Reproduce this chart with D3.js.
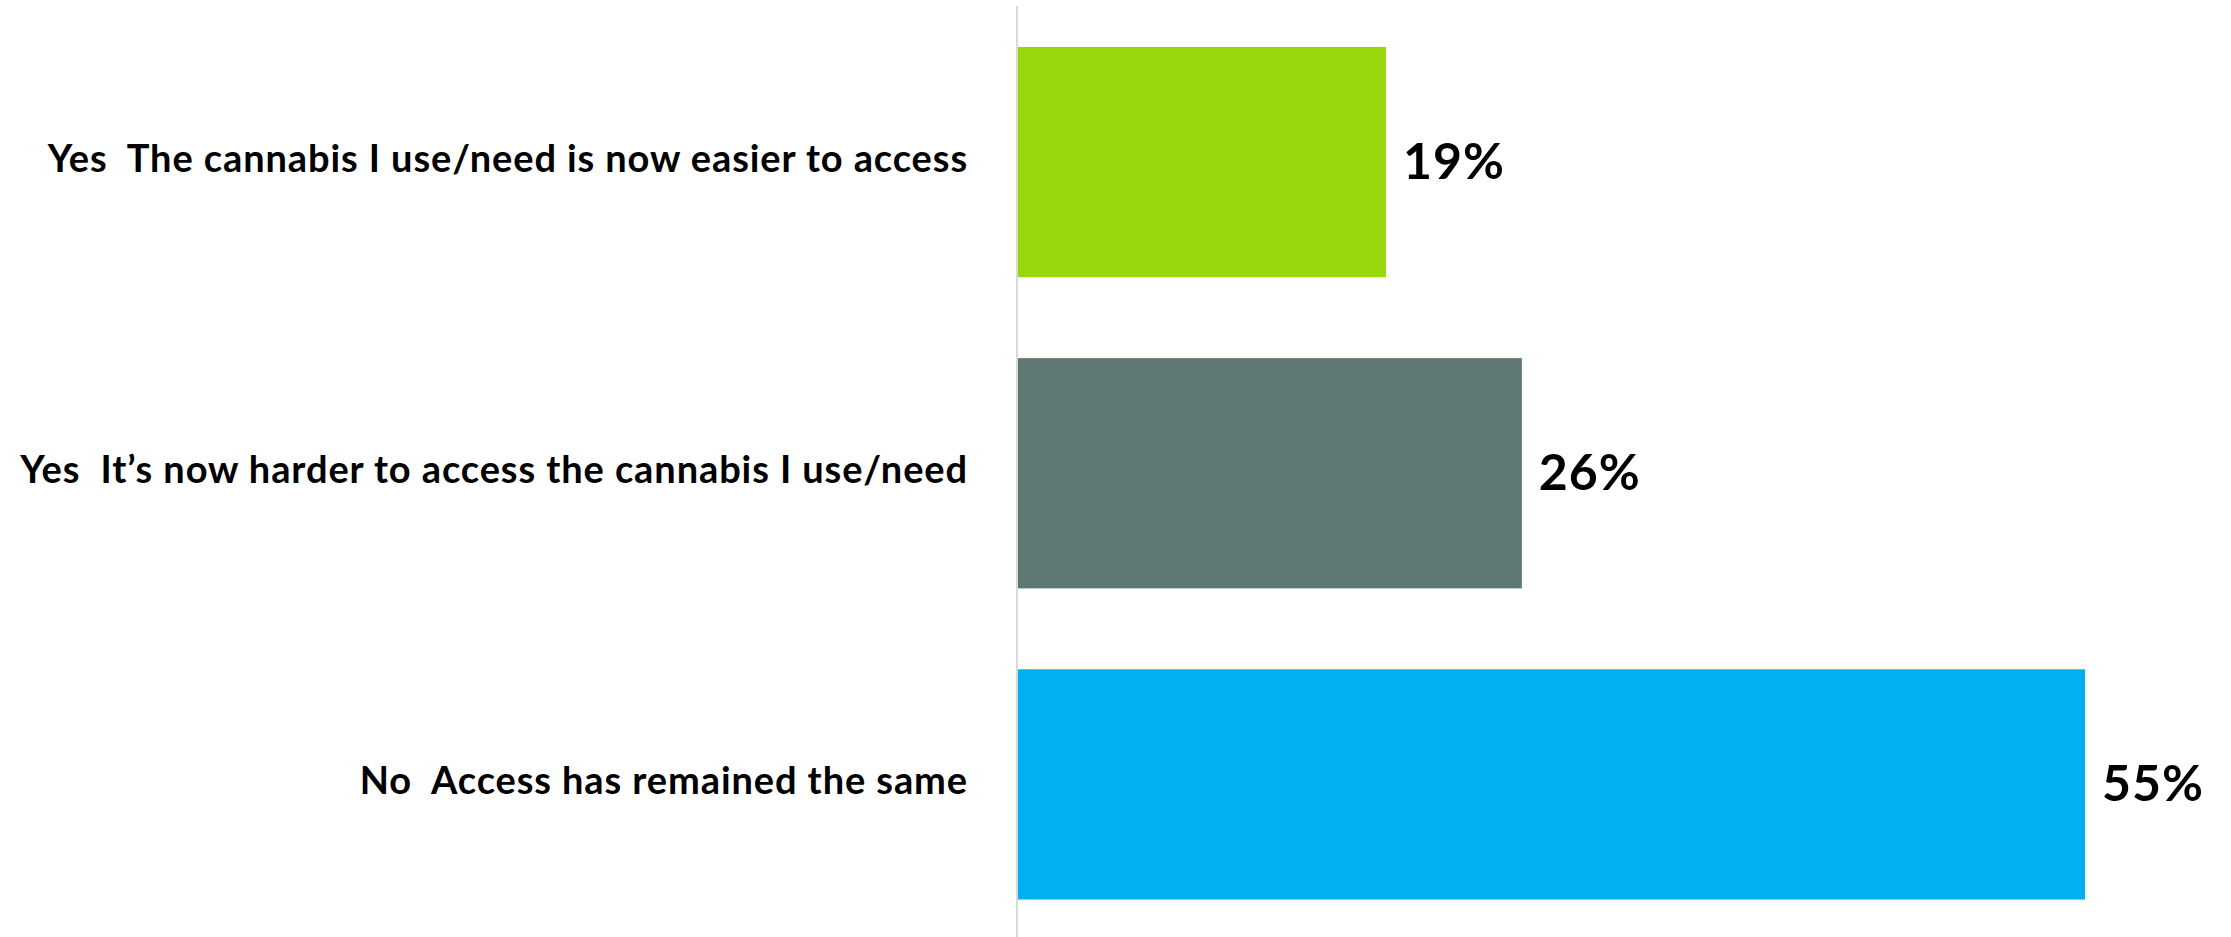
<!DOCTYPE html>
<html>
<head>
<meta charset="utf-8">
<script src="https://cdn.jsdelivr.net/npm/d3@7"></script>
<style>
  html, body { margin: 0; padding: 0; background: #ffffff; }
  svg { display: block; }
  text { white-space: pre; }
</style>
</head>
<body>
<svg id="chart" width="2231" height="937"></svg>
<script>
const categories = [
  "Yes  The cannabis I use/need is now easier to access",
  "Yes  It\u2019s now harder to access the cannabis I use/need",
  "No  Access has remained the same"
];
const values = [19, 26, 55];
const valueLabels = ["19%", "26%", "55%"];
const colors = ["#97D70B", "#5F7873", "#00B0F0"];

const svg = d3.select("#chart");
const x0 = 1017;
const x = d3.scaleLinear().domain([0, 55]).range([x0, 2085]);
const y = d3.scaleBand().domain(categories).range([6.5, 940]).paddingInner(0.26).paddingOuter(0.13);

const fontFamily = "Lato, 'Open Sans', sans-serif";

// bars
svg.append("g").selectAll("rect")
  .data(categories)
  .join("rect")
  .attr("x", x(0))
  .attr("y", d => y(d))
  .attr("width", (d, i) => x(values[i]) - x(0))
  .attr("height", y.bandwidth())
  .attr("fill", (d, i) => colors[i]);

// axis
const axis = svg.append("g")
  .attr("transform", `translate(${x0},0)`)
  .call(d3.axisLeft(y).tickSizeInner(0).tickSizeOuter(0).tickPadding(49));
axis.select(".domain").attr("stroke", "#d9d9d9").attr("stroke-width", 2)
  .attr("d", "M0,6V937");
axis.selectAll("text")
  .attr("font-family", fontFamily)
  .attr("font-weight", 700)
  .attr("font-size", 38)
  .attr("letter-spacing", 0.9)
  .attr("fill", "#000")
  .attr("dy", null)
  .attr("y", 10);

// value labels
svg.append("g").selectAll("text")
  .data(categories)
  .join("text")
  .attr("x", (d, i) => x(values[i]) + 17)
  .attr("y", d => y(d) + y.bandwidth() / 2 + 17)
  .attr("font-family", fontFamily)
  .attr("font-weight", 700)
  .attr("font-size", 50)
  .attr("letter-spacing", 1)
  .attr("fill", "#000")
  .text((d, i) => valueLabels[i]);
</script>
</body>
</html>
